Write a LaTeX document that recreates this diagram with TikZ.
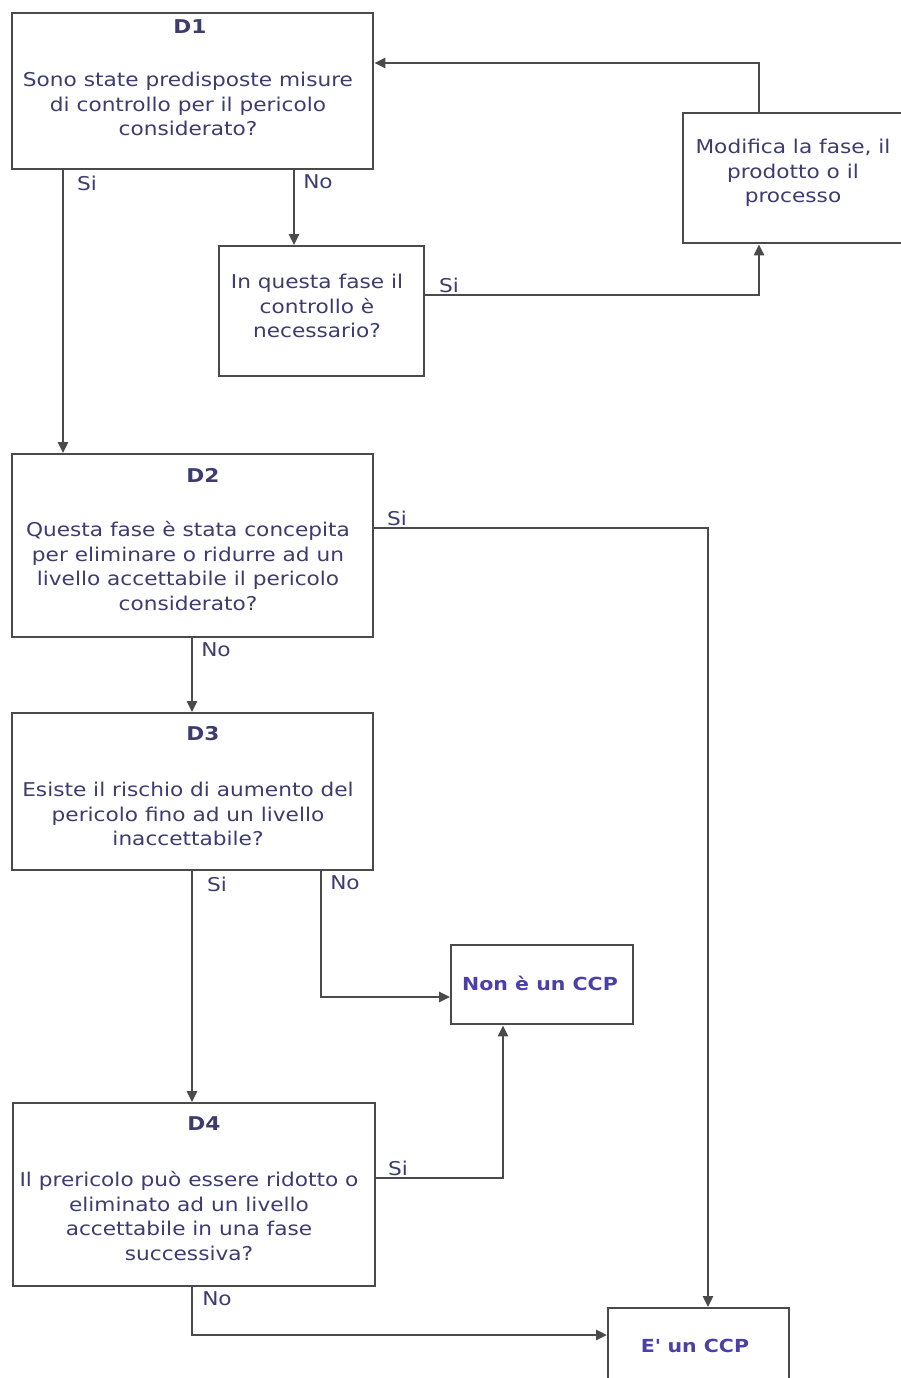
\documentclass[tikz,border=0pt]{standalone}
\usepackage{fontspec}
\setmainfont[FakeStretch=1.14]{DejaVu Sans}
\usetikzlibrary{arrows.meta}
\definecolor{txt}{HTML}{3C3C70}
\definecolor{bld}{HTML}{4A40A8}
\definecolor{ln}{HTML}{4A4A4A}
\tikzset{
  box/.style={draw=ln, line width=2.3pt, fill=white, anchor=north west, inner sep=0pt},
  qtext/.style={text=txt, align=center, font=\fontsize{19}{24.5}\selectfont, inner sep=0pt},
  dtitle/.style={text=txt, font=\fontsize{19}{24}\selectfont\bfseries, inner sep=0pt},
  res/.style={text=bld, font=\fontsize{18}{24}\selectfont\bfseries, inner sep=0pt},
  lbl/.style={text=txt, font=\fontsize{19}{24}\selectfont, inner sep=0pt},
  conn/.style={draw=ln, line width=2.5pt, -{Triangle[length=11pt,width=10pt]}},
}
\begin{document}
\begin{tikzpicture}[x=1pt,y=-1pt]
\useasboundingbox (0,0) rectangle (901,1378);
\clip (0,0) rectangle (901,1378);
% boxes
\node[box, minimum width=361pt, minimum height=156pt] (d1) at (11,12) {};
\node[box, minimum width=205pt, minimum height=130pt] (q) at (218,245) {};
\node[box, minimum width=225pt, minimum height=130pt] (mod) at (682,112) {};
\node[box, minimum width=361pt, minimum height=183pt] (d2) at (11,453) {};
\node[box, minimum width=361pt, minimum height=157pt] (d3) at (11,712) {};
\node[box, minimum width=182pt, minimum height=79pt] (non) at (450,944) {};
\node[box, minimum width=362pt, minimum height=183pt] (d4) at (12,1102) {};
\node[box, minimum width=181pt, minimum height=90pt] (ccp) at (607,1307) {};
% texts
\node[dtitle] (t1) at (190,27) {D1};
\node[qtext] (q1) at (188,104) {Sono state predisposte misure\\di controllo per il pericolo\\considerato?};
\node[qtext] (qq) at (317,306) {In questa fase il\\controllo è\\necessario?};
\node[qtext] (qm) at (793,173) {Modifica la fase, il\\prodotto o il\\processo};
\node[dtitle] (t2) at (203,475) {D2};
\node[qtext] (q2) at (188,566) {Questa fase è stata concepita\\per eliminare o ridurre ad un\\livello accettabile il pericolo\\considerato?};
\node[dtitle] (t3) at (203,734) {D3};
\node[qtext] (q3) at (188,814) {Esiste il rischio di aumento del\\pericolo fino ad un livello\\inaccettabile?};
\node[res] (tn) at (540,983) {Non è un CCP};
\node[dtitle] (t4) at (204,1124) {D4};
\node[qtext] (q4) at (189,1216) {Il prericolo può essere ridotto o\\eliminato ad un livello\\accettabile in una fase\\successiva?};
\node[res] (tc) at (695,1346) {E\textquotesingle\ un CCP};
% connectors
\draw[conn] (d1.south -| 63,0) -- (d2.north -| 63,0);
\node[lbl] (l1) at (87,183) {Si};
\draw[conn] (d1.south -| 294,0) -- (q.north -| 294,0);
\node[lbl] (l2) at (318,182) {No};
\coordinate (c1) at (759,295);
\draw[conn] (q.east |- c1) -- (c1) -- (mod.south -| c1);
\node[lbl] (l3) at (449,285) {Si};
\coordinate (c2) at (759,63);
\draw[conn] (mod.north -| c2) -- (c2) -- (d1.east |- c2);
\coordinate (c3) at (708,528);
\draw[conn] (d2.east |- c3) -- (c3) -- (ccp.north -| c3);
\node[lbl] (l4) at (397,518) {Si};
\draw[conn] (d2.south -| 192,0) -- (d3.north -| 192,0);
\node[lbl] (l5) at (216,650) {No};
\draw[conn] (d3.south -| 192,0) -- (d4.north -| 192,0);
\node[lbl] (l6) at (217,884) {Si};
\coordinate (c4) at (321,997);
\draw[conn] (d3.south -| c4) -- (c4) -- (non.west |- c4);
\node[lbl] (l7) at (345,883) {No};
\coordinate (c5) at (503,1178);
\draw[conn] (d4.east |- c5) -- (c5) -- (non.south -| c5);
\node[lbl] (l8) at (398,1168) {Si};
\coordinate (c6) at (192,1335);
\draw[conn] (d4.south -| c6) -- (c6) -- (ccp.west |- c6);
\node[lbl] (l9) at (217,1299) {No};
\end{tikzpicture}
\end{document}
